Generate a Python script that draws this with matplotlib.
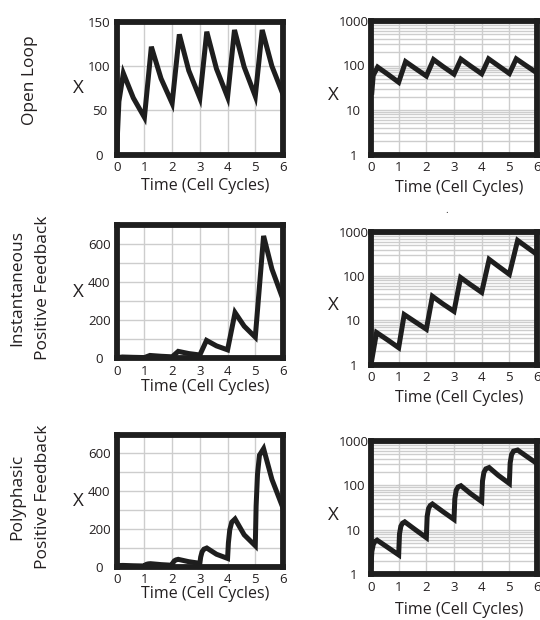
import matplotlib.pyplot as plt
from matplotlib.ticker import MultipleLocator, NullFormatter

plt.rcParams['font.family'] = ['Open Sans', 'DejaVu Sans']
INK = '#231f20'

row_labels = ['Open Loop', 'Instantaneous\nPositive Feedback', 'Polyphasic\nPositive Feedback']
xlabel = 'Time (Cell Cycles)'

# open loop
t_open = [0, 0.03, 0.08, 0.24, 0.6, 1.0, 1.25, 1.6, 2.0, 2.26, 2.6, 3.0, 3.25, 3.6,
          4.0, 4.25, 4.6, 5.0, 5.25, 5.6, 6.0]
x_open = [0, 25, 60, 92, 64, 42, 122, 86, 58, 136, 95, 64, 139, 97,
          65, 141, 99, 66, 141, 100, 68]

# instantaneous positive feedback
t_inst = [0, 0.2, 0.6, 1.0, 1.2, 1.6, 2.0, 2.22, 2.6, 3.0, 3.24, 3.6, 4.0, 4.27,
          4.6, 5.0, 5.3, 5.6, 6.0]
x_inst = [1, 5.3, 3.6, 2.4, 13.5, 9.2, 6.3, 35, 23.5, 16, 93, 64, 43, 240,
          168, 110, 645, 470, 310]

# polyphasic positive feedback
t_poly = [0, 0.03, 0.08, 0.14, 0.22, 0.6,
          1.0, 1.03, 1.08, 1.14, 1.22, 1.6,
          2.0, 2.03, 2.08, 2.14, 2.22, 2.6,
          3.0, 3.03, 3.08, 3.15, 3.25, 3.6,
          4.0, 4.03, 4.08, 4.15, 4.27, 4.6,
          5.0, 5.03, 5.08, 5.15, 5.3, 5.6, 6.0]
x_poly = [1.5, 3.2, 4.6, 5.4, 5.8, 4.0,
          2.7, 8, 12, 14, 15, 10,
          6.6, 20, 30, 35, 38, 25.5,
          17, 50, 78, 92, 98, 65,
          43, 125, 195, 235, 252, 168,
          110, 320, 490, 590, 625, 462, 310]

series = [(t_open, x_open), (t_inst, x_inst), (t_poly, x_poly)]

W, H = 540, 620
fig = plt.figure(figsize=(W / 100, H / 100), dpi=100)


def box(l, t, r, b):
    return [l / W, 1 - b / H, (r - l) / W, (b - t) / H]


lin_boxes = [(116.7, 22, 283, 154.5), (116.7, 225.5, 283, 358), (116.7, 434.5, 283, 566.5)]
log_boxes = [(371, 21, 537, 154.5), (371, 232, 537, 364.5), (371, 441, 537, 574)]
lin_xlab_dy = [31, 29, 28]
log_xlab_dy = [33, 33, 36]
row_label_y = [80, 288, 497]


def style(ax, b, xlab_dy, ylab_dy):
    w, h = b[2] - b[0], b[3] - b[1]
    ax.set_xlim(0, 6)
    ax.set_xticks(range(7))
    ax.grid(True, which='both', color='#cdcdcd', lw=1.0)
    ax.set_axisbelow(True)
    for s in ax.spines.values():
        s.set_linewidth(4.2)
        s.set_color('#1e1e1e')
        s.set_capstyle('projecting')
    ax.tick_params(which='both', length=0)
    ax.tick_params(axis='x', pad=5, labelsize=9.5, labelcolor=INK)
    ax.tick_params(axis='y', pad=12.5, labelsize=9.5, labelcolor=INK)
    plt.setp(ax.get_yticklabels(), ha='center')
    ax.set_xlabel(xlabel, fontsize=11.5, color=INK, va='center')
    ax.xaxis.set_label_coords(0.5 + 5 / w, -xlab_dy / h)
    ax.set_ylabel('X', rotation=0, fontsize=13.5, color=INK, ha='center', va='center')
    ax.yaxis.set_label_coords(-38 / w, 0.5 - ylab_dy / h)


for i, (t, x) in enumerate(series):
    # linear panel
    ax = fig.add_axes(box(*lin_boxes[i]))
    ax.plot(t, x, color='#1e1e1e', lw=3.6, solid_joinstyle='miter')
    if i == 0:
        ax.set_ylim(0, 150)
        ax.set_yticks([0, 50, 100, 150])
    else:
        ax.set_ylim(0, 700)
        ax.set_yticks([0, 200, 400, 600])
        ax.yaxis.set_minor_locator(MultipleLocator(100))
    style(ax, lin_boxes[i], lin_xlab_dy[i], 0)

    # log panel
    ax = fig.add_axes(box(*log_boxes[i]))
    ax.set_yscale('log', nonpositive='mask')
    ax.plot(t, x, color='#1e1e1e', lw=3.6, solid_joinstyle='miter')
    ax.set_ylim(1, 1000)
    ax.set_yticks([1, 10, 100, 1000], labels=['1', '10', '100', '1000'])
    ax.yaxis.set_minor_formatter(NullFormatter())
    style(ax, log_boxes[i], log_xlab_dy[i], 7)

    fig.text(30 / W, 1 - row_label_y[i] / H, row_labels[i], rotation=90,
             ha='center', va='center', multialignment='center',
             fontsize=12.5, linespacing=1.8, color=INK)

fig.text(446.7 / W, 1 - 213 / H, '.', fontsize=7, ha='center', color=INK)

fig.savefig('out.png', dpi=100)
